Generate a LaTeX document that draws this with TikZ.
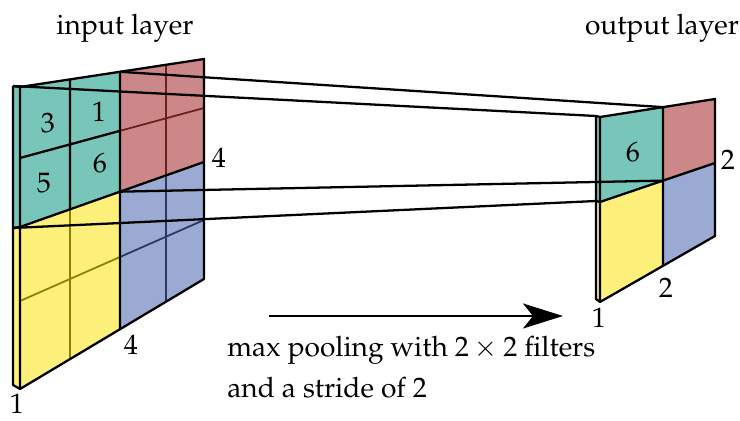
\documentclass[tikz,border=0pt]{standalone}
\usepackage[T1]{fontenc}
\usepackage{mathpazo}
\usepackage{tikz}
\usetikzlibrary{arrows.meta,calc}
\definecolor{cellteal}{HTML}{78C6B9}
\definecolor{cellred}{HTML}{CC8888}
\definecolor{cellyellow}{HTML}{FDF07A}
\definecolor{cellblue}{HTML}{9BAAD3}
\definecolor{linered}{HTML}{6E1E1E}
\definecolor{lineyellow}{HTML}{8C8000}
\definecolor{lineblue}{HTML}{283863}

\tikzset{
  edge/.style={black,line width=1.3pt,line join=round},
  inner/.style={line width=1pt},
  lbl/.style={font=\fontsize{16}{18}\selectfont,inner sep=0pt},
}

\begin{document}
\begin{tikzpicture}[x=0.02cm,y=-0.02cm,>=Stealth]
\useasboundingbox (0,0) rectangle (740,421);

% input layer: rows as straight lines, columns foreshortened
\foreach \j/\yl/\yr in {0/87/59,1/158/108,2/227/162,3/301/220,4/389/279}{
  \coordinate (iL\j) at (20,\yl);
  \coordinate (iR\j) at (204,\yr);
}
\foreach \i/\t in {0/0,1/0.2717,2/0.5435,3/0.7935,4/1}
  \foreach \j in {0,...,4}
    \coordinate (i\i\j) at ($(iL\j)!\t!(iR\j)$);
\coordinate (s0) at (13,86);
\coordinate (s2) at (13,228);
\coordinate (s4) at (13,385);

\fill[cellteal] (s0)--(i00)--(i02)--(s2)--cycle;
\fill[cellyellow] (s2)--(i02)--(i04)--(s4)--cycle;
\fill[cellteal] (i00)--(i20)--(i22)--(i02)--cycle;
\fill[cellred] (i20)--(i40)--(i42)--(i22)--cycle;
\fill[cellyellow] (i02)--(i22)--(i24)--(i04)--cycle;
\fill[cellblue] (i22)--(i42)--(i44)--(i24)--cycle;

\draw[edge] (i10)--(i12) (i01)--(i21);
\draw[inner,linered] (i30)--(i32) (i21)--(i41);
\draw[inner,lineyellow] (i12)--(i14) (i03)--(i23);
\draw[inner,lineblue] (i32)--(i34) (i23)--(i43);

\draw[edge] (i00)--(i40)--(i44)--(i04)--cycle;
\draw[edge] (i20)--(i24) (i02)--(i42);
\draw[edge] (s0)--(i00) (s0)--(s4)--(i04) (s2)--(i02);

\node[lbl] (n3) at (48,123) {3};
\node[lbl] (n1) at (99,112) {1};
\node[lbl] (n5) at (44,183) {5};
\node[lbl] (n6) at (100,163) {6};
\node[lbl] (irow) at (219,158) {4};
\node[lbl] (icol) at (131,345) {4};
\node[lbl] (idep) at (17,404) {1};
\node[lbl] (itl) at (125,28) {input layer};

% output layer
\foreach \j/\yl/\yr in {0/117/99,1/202/163,2/302/236}{
  \coordinate (oL\j) at (600,\yl);
  \coordinate (oR\j) at (715,\yr);
}
\foreach \i/\t in {0/0,1/0.548,2/1}
  \foreach \j in {0,1,2}
    \coordinate (o\i\j) at ($(oL\j)!\t!(oR\j)$);
\coordinate (os0) at (596,116);
\coordinate (os1) at (596,201);
\coordinate (os2) at (596,299);

\fill[cellteal] (os0)--(o00)--(o01)--(os1)--cycle;
\fill[cellyellow] (os1)--(o01)--(o02)--(os2)--cycle;
\fill[cellteal] (o00)--(o10)--(o11)--(o01)--cycle;
\fill[cellred] (o10)--(o20)--(o21)--(o11)--cycle;
\fill[cellyellow] (o01)--(o11)--(o12)--(o02)--cycle;
\fill[cellblue] (o11)--(o21)--(o22)--(o12)--cycle;

\draw[edge] (o00)--(o20)--(o22)--(o02)--cycle;
\draw[edge] (o10)--(o12) (o01)--(o21);
\draw[edge] (os0)--(o00) (os0)--(os2)--(o02) (os1)--(o01);

\node[lbl] (m6) at (633,152) {6};
\node[lbl] (orow) at (728,160) {2};
\node[lbl] (ocol) at (666,288) {2};
\node[lbl] (odep) at (599,318) {1};
\node[lbl] (otl) at (662,28) {output layer};

% pooling window onto its output cell
\draw[edge] (i20)--(o10);
\draw[edge] (s0)--(os0);
\draw[edge] (i22)--(o11);
\draw[edge] (s2)--(os1);

\coordinate (a0) at (269,316);
\coordinate (a1) at (563,316);
\draw[line width=1.3pt,-{Stealth[length=0.8cm,width=0.5cm,inset=0.2cm]}] (a0)--(a1);
\node[lbl,anchor=west] (cap1) at (227,350) {max pooling with $2\times2$ filters};
\node[lbl,anchor=west] (cap2) at (227,388) {and a stride of 2};
\end{tikzpicture}
\end{document}
